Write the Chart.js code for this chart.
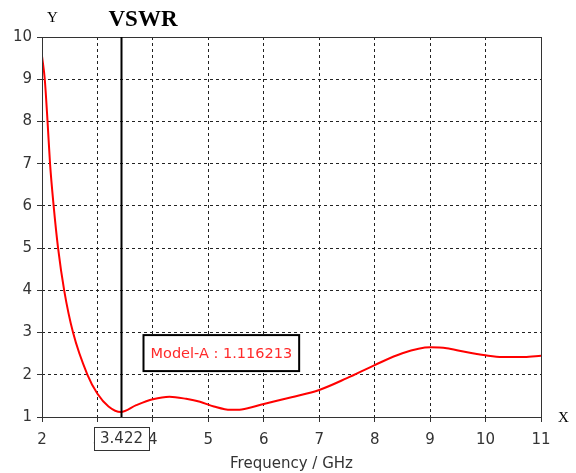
<!DOCTYPE html>
<html>
<head>
<meta charset="utf-8">
<script src="https://cdn.jsdelivr.net/npm/chart.js@4/dist/chart.umd.min.js"></script>
<style>
  html, body { margin: 0; padding: 0; background: #fff; }
  #wrap { width: 576px; height: 473px; }
</style>
</head>
<body>
<div id="wrap"><canvas id="vswrChart" width="576" height="473"></canvas></div>
<script>
// frequency (GHz) and VSWR
var freq = [2.0, 2.05, 2.1, 2.145, 2.21, 2.29, 2.40, 2.56, 2.82, 3.0, 3.2, 3.422, 3.7, 4.0, 4.3, 4.6, 4.85, 5.1, 5.4, 5.6, 6.0, 6.5, 7.0, 7.5, 8.0, 8.5, 9.0, 9.3, 9.6, 10.0, 10.3, 10.7, 11.0];
var vswr = [9.55, 9.0, 8.0, 7.0, 6.0, 5.0, 4.0, 3.0, 2.0, 1.55, 1.25, 1.116, 1.28, 1.42, 1.48, 1.43, 1.36, 1.25, 1.17, 1.18, 1.31, 1.47, 1.64, 1.92, 2.23, 2.51, 2.65, 2.63, 2.55, 2.46, 2.42, 2.42, 2.45];
var xTicks = [2, 3, 4, 5, 6, 7, 8, 9, 10, 11];
var yTicks = [1, 2, 3, 4, 5, 6, 7, 8, 9, 10];
var markerX = 3.422;
var markerY = 1.116213;
var markerName = 'Model-A';

document.addEventListener('DOMContentLoaded', function () {
    var points = freq.map(function (f, i) { return { x: f, y: vswr[i] }; });
    var uiFont = '"DejaVu Sans", Verdana, sans-serif';

    // frame, marker line, marker boxes and the Y / X / VSWR captions
    var extras = {
        id: 'extras',
        afterDatasetsDraw: function (chart) {
            var ctx = chart.ctx, a = chart.chartArea;
            var xs = chart.scales.x, ys = chart.scales.y;
            ctx.save();
            // plot frame
            ctx.strokeStyle = '#333';
            ctx.lineWidth = 1;
            ctx.setLineDash([]);
            ctx.strokeRect(a.left + 0.5, a.top + 0.5, a.right - a.left, a.bottom - a.top);

            // marker line
            var mx = Math.round(xs.getPixelForValue(markerX)) + 0.5;
            var my = ys.getPixelForValue(markerY);
            ctx.strokeStyle = '#000';
            ctx.lineWidth = 2;
            ctx.beginPath();
            ctx.moveTo(mx, a.top);
            ctx.lineTo(mx, a.bottom);
            ctx.stroke();

            // value box under the axis
            ctx.font = '15px ' + uiFont;
            var t = markerX.toFixed(3);
            var bw = 55, bh = 23;
            ctx.fillStyle = '#fff';
            ctx.fillRect(mx - bw / 2, a.bottom + 10, bw, bh);
            ctx.strokeStyle = '#333';
            ctx.lineWidth = 1;
            ctx.strokeRect(Math.round(mx - bw / 2) + 0.5, a.bottom + 10.5, bw, bh);
            ctx.fillStyle = '#333';
            ctx.textAlign = 'center';
            ctx.textBaseline = 'middle';
            ctx.fillText(t, mx, a.bottom + 22);

            // reading box
            var label = markerName + ' : ' + markerY.toFixed(6);
            ctx.font = '14.5px ' + uiFont;
            var lw = ctx.measureText(label).width + 14;
            var lx = mx + 22, ly = my - 77, lh = 36;
            ctx.fillStyle = '#fff';
            ctx.fillRect(lx, ly, lw, lh);
            ctx.strokeStyle = '#000';
            ctx.lineWidth = 2;
            ctx.strokeRect(lx, ly, lw, lh);
            ctx.fillStyle = '#ff2a2a';
            ctx.textAlign = 'left';
            ctx.fillText(label, lx + 7, ly + lh / 2 + 1);

            // captions
            ctx.fillStyle = '#000';
            ctx.font = '15px "Liberation Serif", "Times New Roman", serif';
            ctx.textAlign = 'left';
            ctx.fillText('Y', a.left + 5, 18);
            ctx.fillText('X', a.right + 17, a.bottom + 1);
            ctx.font = 'bold 23px "Liberation Serif", "Times New Roman", serif';
            ctx.fillText('VSWR', mx - 13, 20);
            ctx.restore();
        }
    };

    var ctx = document.getElementById('vswrChart').getContext('2d');
    new Chart(ctx, {
        type: 'line',
        data: {
            datasets: [{
                data: points,
                borderColor: '#ff0000',
                borderWidth: 2,
                pointRadius: 0,
                fill: false,
                cubicInterpolationMode: 'monotone'
            }]
        },
        options: {
            responsive: false,
            animation: false,
            devicePixelRatio: 1,
            layout: { padding: { top: 37, right: 35, left: 0, bottom: 0 } },
            plugins: { legend: { display: false }, tooltip: { enabled: false }, title: { display: false } },
            scales: {
                x: {
                    type: 'linear',
                    min: xTicks[0], max: xTicks[xTicks.length - 1],
                    afterBuildTicks: function (s) { s.ticks = xTicks.map(function (v) { return { value: v }; }); },
                    afterFit: function (s) { s.height = 56; },
                    ticks: { color: '#333', padding: 9, font: { family: uiFont, size: 15 }, maxRotation: 0 },
                    grid: { color: '#222', lineWidth: 1, tickLength: 5, tickColor: '#333', tickBorderDash: [], drawTicks: true },
                    border: { display: false, dash: [3, 3] },
                    title: { display: true, text: 'Frequency / GHz', color: '#333', font: { family: uiFont, size: 15 }, padding: { top: 2, bottom: 0 } }
                },
                y: {
                    type: 'linear',
                    min: yTicks[0], max: yTicks[yTicks.length - 1],
                    afterBuildTicks: function (s) { s.ticks = yTicks.map(function (v) { return { value: v }; }); },
                    afterFit: function (s) { s.width = 42; },
                    ticks: { color: '#333', padding: 5, font: { family: uiFont, size: 15 } },
                    grid: { color: '#222', lineWidth: 1, tickLength: 5, tickColor: '#333', tickBorderDash: [] },
                    border: { display: false, dash: [3, 3] }
                }
            }
        },
        plugins: [extras]
    });
});
</script>
</body>
</html>
